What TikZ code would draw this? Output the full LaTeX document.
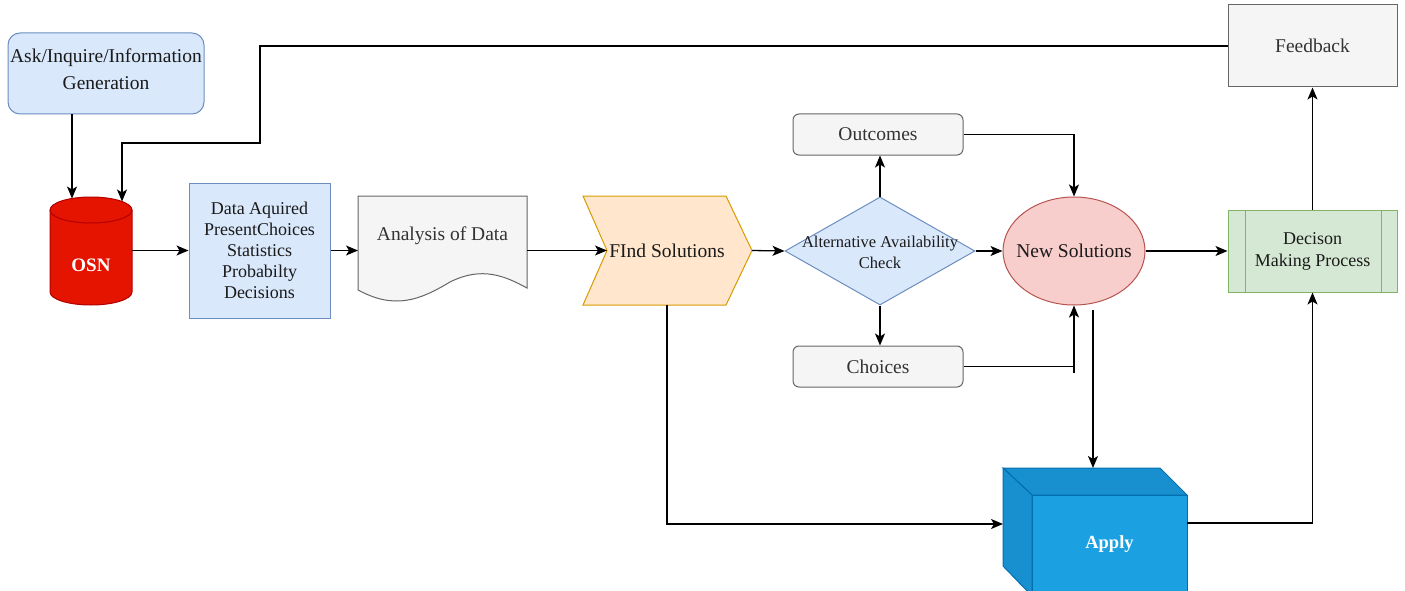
\documentclass[tikz,border=0pt]{standalone}
\usepackage{fontspec}
\setmainfont{Liberation Serif}
\usetikzlibrary{arrows.meta,shapes.geometric,calc}
\definecolor{bluefill}{HTML}{DAE8FC}
\definecolor{blueline}{HTML}{6C8EBF}
\definecolor{grayfill}{HTML}{F5F5F5}
\definecolor{grayline}{HTML}{666666}
\definecolor{graytext}{HTML}{333333}
\definecolor{orangefill}{HTML}{FFE6CC}
\definecolor{orangeline}{HTML}{D79B00}
\definecolor{redfill}{HTML}{F8CECC}
\definecolor{redline}{HTML}{B85450}
\definecolor{greenfill}{HTML}{D5E8D4}
\definecolor{greenline}{HTML}{82B366}
\definecolor{osnred}{HTML}{E51400}
\definecolor{osnline}{HTML}{B20000}
\definecolor{cubefront}{HTML}{1BA1E2}
\definecolor{cubeside}{HTML}{1890CF}
\definecolor{cubeline}{HTML}{006EAF}
\definecolor{darktext}{HTML}{1A1A1A}
\begin{document}
\begin{tikzpicture}[x=1pt,y=-1pt,
  base/.style={font=\fontsize{19.5}{23}\selectfont, align=center, inner sep=0pt, text=darktext},
  bluebox/.style={base, draw=blueline, fill=bluefill, line width=1pt},
  graybox/.style={base, draw=grayline, fill=grayfill, line width=1pt, text=graytext},
  ln/.style={draw=black, line width=1.3pt},
  arr/.style={ln, -{Stealth[length=12pt,width=10pt,inset=3pt]}}]
\useasboundingbox (0,0) rectangle (1405,591);

% Ask box
\node[bluebox, rounded corners=12pt, minimum width=196pt, minimum height=81pt] (ask) at (106,73.5) {};
\node[base, font=\fontsize{19.5}{27.5}\selectfont] (asktext) at (106,69) {Ask/Inquire/Information\\Generation};

% OSN cylinder
\path[fill=osnred, draw=osnline, line width=1pt] (50,210)
  arc[start angle=180,end angle=0,x radius=41pt,y radius=13pt] -- (132,292)
  arc[start angle=0,end angle=-180,x radius=41pt,y radius=13pt] -- cycle;
\draw[osnline, line width=1pt] (50,210) arc[start angle=180,end angle=360,x radius=41pt,y radius=13pt];
\node[base, text=white, font=\bfseries\fontsize{19}{23}\selectfont] (osn) at (91,265) {OSN};
\coordinate (osnA) at (72,198.5);
\coordinate (osnB) at (122,201.5);
\coordinate (osnE) at (132,250.5);

% Data box
\node[bluebox, minimum width=141pt, minimum height=135pt,
      font=\fontsize{18}{21}\selectfont] (data) at (259.5,250.5) {Data Aquired\\PresentChoices\\Statistics\\Probabilty\\Decisions};

% Analysis document
\path[fill=grayfill, draw=grayline, line width=1pt] (358,196) -- (527,196) -- (527,288)
  .. controls (505,276) and (482,266) .. (450,282)
  .. controls (420,300) and (395,310) .. (358,290) -- cycle;
\node[base, text=graytext] (ana) at (442.5,236) {Analysis of Data};
\coordinate (anaW) at (358,250.5);
\coordinate (anaE) at (527,250.5);

% Find solutions chevron
\path[fill=orangefill, draw=orangeline, line width=1pt] (583,196) -- (726,196) -- (752,250.5)
  -- (726,305) -- (583,305) -- (607,250.5) -- cycle;
\node[base] (find) at (667,250.5) {FInd Solutions};
\coordinate (findW) at (607,250.5);
\coordinate (findE) at (752,250.5);
\coordinate (findS) at (667,305);

% Diamond
\node[diamond, aspect=1.76, minimum width=190pt, minimum height=108pt, inner sep=0pt,
      draw=blueline, fill=bluefill, line width=1pt] (alt) at (880,251) {};
\node[base, font=\fontsize{16.5}{21}\selectfont] (alttext) at (880,252) {Alternative Availability\\Check};

% Outcomes / Choices
\node[graybox, rounded corners=6pt, minimum width=170pt, minimum height=41pt] (out) at (878,134.5) {Outcomes};
\node[graybox, rounded corners=6pt, minimum width=170pt, minimum height=41pt] (cho) at (878,366.5) {Choices};

% New Solutions
\node[ellipse, draw=redline, fill=redfill, line width=1pt, minimum width=142pt, minimum height=108pt,
      inner sep=0pt, base] (news) at (1074,251) {\makebox[0pt]{New Solutions}};
\coordinate (chotick) at (1074,373);
\coordinate (nsout) at (1093,310);

% Decision
\node[base, draw=greenline, fill=greenfill, line width=1pt, minimum width=169pt, minimum height=82pt,
      font=\fontsize{18}{22}\selectfont] (dec) at (1312.5,251) {Decison\\Making Process};
\draw[greenline, line width=1pt] ($(dec.north west)+(18,0)$) -- ($(dec.south west)+(18,0)$);
\draw[greenline, line width=1pt] ($(dec.north east)+(-16,0)$) -- ($(dec.south east)+(-16,0)$);

% Feedback
\node[graybox, minimum width=169pt, minimum height=82pt] (fb) at (1312.5,46) {Feedback};
\coordinate (fbturn) at (260,143);

% Apply cube
\begin{scope}
\clip (0,0) rectangle (1405,591);
\path[fill=cubeside, draw=cubeline, line width=1pt] (1003,468) -- (1160,468) -- (1187,495) -- (1032,495) -- cycle;
\path[fill=cubeside, draw=cubeline, line width=1pt] (1003,468) -- (1032,495) -- (1032,596) -- (1003,566) -- cycle;
\node[base, fill=cubefront, draw=cubeline, line width=1pt, minimum width=155pt, minimum height=98pt,
      text=white, font=\bfseries\fontsize{18.5}{22}\selectfont] (apply) at (1109.5,544) {Apply};
\end{scope}
\coordinate (applyL) at (1003,524);
\coordinate (applyT) at (1093,468);
\coordinate (applyR) at (1187,523);

% Connectors
\draw[arr] (ask.south -| osnA) -- (osnA);
\draw[arr] (fb.west) -| (fbturn) -| (osnB);
\draw[arr] (osnE) -- (data.west);
\draw[arr] (data.east) -- (anaW);
\draw[arr] (anaE) -- (findW);
\draw[arr] (findE) -- (alt.west);
\draw[arr] (alt.north) -- (alt.north |- out.south);
\draw[arr] (alt.south) -- (alt.south |- cho.north);
\draw[arr] (alt.east) -- (news.west);
\draw[arr] (out.east) -| (news.north);
\draw[ln] (cho.east) -- (cho.east -| news.south) -- (chotick);
\draw[arr] (chotick) -- (news.south);
\draw[arr] (news.east) -- (dec.west);
\draw[arr] (nsout) -- (applyT);
\draw[arr] (findS) |- (applyL);
\draw[arr] (applyR) -| (dec.south);
\draw[arr] (dec.north) -- (fb.south);
\end{tikzpicture}
\end{document}
